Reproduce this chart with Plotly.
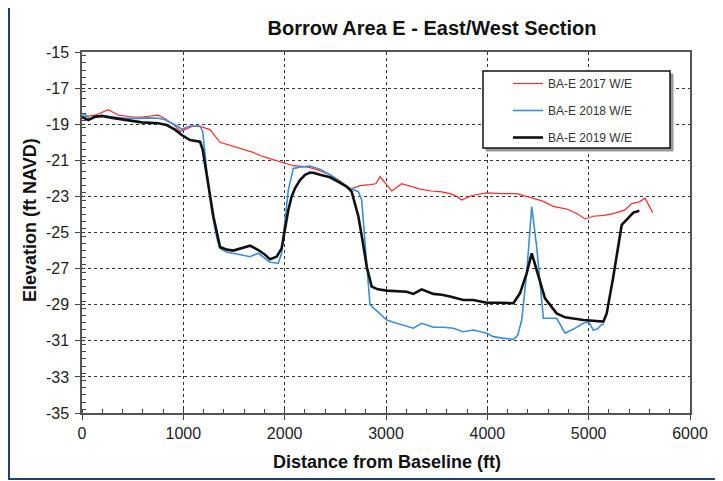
import plotly.graph_objects as go

# ---------------- data ----------------
x_2017 = [0, 60, 130, 260, 360, 500, 590, 680, 750, 820, 900, 970, 1030, 1100, 1180, 1263, 1362, 1450,
          1559, 1680, 1789, 1900, 1954, 2085, 2200, 2283, 2447, 2560, 2650, 2743, 2842, 2900, 2941, 3000,
          3056, 3155, 3250, 3336, 3450, 3550, 3632, 3700, 3747, 3800, 3846, 3994, 4150, 4290, 4421, 4540,
          4651, 4783, 4882, 4964, 5046, 5150, 5243, 5359, 5425, 5500, 5556, 5632]
y_2017 = [-18.65, -18.55, -18.5, -18.2, -18.5, -18.6, -18.6, -18.55, -18.5, -18.7, -19.0, -19.4, -19.25,
          -19.1, -19.15, -19.3, -20.0, -20.15, -20.3, -20.55, -20.8, -21.0, -21.08, -21.3, -21.35, -21.45,
          -21.8, -22.2, -22.6, -22.4, -22.35, -22.3, -21.9, -22.3, -22.7, -22.3, -22.45, -22.6, -22.7,
          -22.75, -22.85, -23.0, -23.2, -23.05, -22.95, -22.8, -22.85, -22.85, -23.07, -23.25, -23.55,
          -23.7, -23.95, -24.25, -24.1, -24.05, -23.95, -23.75, -23.4, -23.3, -23.1, -23.9]

x_2018 = [0, 30, 80, 195, 300, 424, 550, 650, 753, 820, 885, 940, 984, 1066, 1165, 1191, 1230, 1280, 1330,
          1362, 1430, 1493, 1580, 1658, 1740, 1800, 1855, 1937, 1970, 2000, 2036, 2085, 2150, 2250, 2350,
          2447, 2530, 2612, 2727, 2760, 2800, 2842, 2920, 3007, 3105, 3200, 3270, 3352, 3467, 3565, 3665,
          3763, 3862, 3994, 4059, 4150, 4257, 4300, 4339, 4388, 4438, 4487, 4553, 4684, 4767, 4850, 4948,
          5000, 5046, 5085, 5128, 5153]
y_2018 = [-18.55, -18.45, -18.73, -18.5, -18.6, -18.67, -18.68, -18.65, -18.67, -18.75, -18.95, -19.1,
          -19.28, -19.1, -19.1, -19.4, -21.5, -23.8, -25.3, -25.88, -26.1, -26.15, -26.25, -26.34, -26.15,
          -26.4, -26.65, -26.7, -26.15, -24.5, -22.65, -21.45, -21.38, -21.32, -21.5, -21.8, -22.1, -22.46,
          -22.74, -23.2, -26.0, -29.0, -29.4, -29.85, -30.03, -30.2, -30.3, -30.03, -30.25, -30.25, -30.3,
          -30.5, -30.4, -30.58, -30.77, -30.85, -30.92, -30.7, -29.85, -27.3, -23.57, -25.8, -29.75,
          -29.75, -30.58, -30.35, -30.03, -29.95, -30.4, -30.35, -30.1, -30.1]

x_2019 = [0, 62, 128, 195, 300, 424, 590, 753, 835, 918, 984, 1066, 1165, 1191, 1240, 1296, 1362, 1430,
          1493, 1580, 1658, 1740, 1800, 1855, 1921, 1970, 2000, 2036, 2069, 2102, 2151, 2201, 2250, 2283,
          2350, 2447, 2530, 2612, 2661, 2727, 2770, 2810, 2859, 2920, 3007, 3105, 3204, 3270, 3352, 3467,
          3550, 3632, 3763, 3862, 3994, 4125, 4257, 4322, 4388, 4438, 4504, 4569, 4684, 4767, 4948, 5145,
          5178, 5243, 5326, 5375, 5441, 5500]
y_2019 = [-18.6, -18.77, -18.58, -18.55, -18.65, -18.77, -18.9, -18.95, -19.05, -19.3, -19.6, -19.88,
          -19.97, -20.4, -22.2, -24.1, -25.8, -25.95, -26.0, -25.85, -25.73, -25.97, -26.2, -26.48, -26.34,
          -25.88, -24.8, -23.75, -23.0, -22.55, -22.1, -21.8, -21.68, -21.69, -21.8, -21.94, -22.2, -22.46,
          -22.74, -24.1, -25.5, -26.9, -28.0, -28.15, -28.22, -28.25, -28.28, -28.4, -28.15, -28.4, -28.45,
          -28.55, -28.74, -28.74, -28.89, -28.89, -28.92, -28.37, -27.26, -26.15, -27.45, -28.65, -29.48,
          -29.7, -29.85, -29.94, -29.48, -27.45, -24.58, -24.3, -23.9, -23.79]

series_names = ["BA-E 2017 W/E", "BA-E 2018 W/E", "BA-E 2019 W/E"]
x_ticks = [0, 1000, 2000, 3000, 4000, 5000, 6000]
y_ticks = [-35, -33, -31, -29, -27, -25, -23, -21, -19, -17, -15]

FONT = "Liberation Sans, Arial, sans-serif"

fig = go.Figure()
fig.add_trace(go.Scatter(x=x_2017, y=y_2017, mode="lines", name=series_names[0], legendgroup="a",
                         line=dict(color="#ff2a2a", width=1.2)))
fig.add_trace(go.Scatter(x=x_2018, y=y_2018, mode="lines", name=series_names[1], legendgroup="b",
                         line=dict(color="#3a8ddb", width=1.6)))
fig.add_trace(go.Scatter(x=x_2019, y=y_2019, mode="lines", name=series_names[2], legendgroup="c",
                         line=dict(color="#111111", width=2.6)))

# page has an 8px body margin: figure coords = screen coords - 8
OFF = 8
W, H = 723 - OFF, 481 - OFF
L, R, T, B = 82 - OFF, 690 - OFF, 52 - OFF, 413 - OFF
pw, ph = R - L, B - T


def px(xs):  # screen x -> paper
    return (xs - OFF - L) / pw


def py(ys):  # screen y -> paper
    return (B - (ys - OFF)) / ph


axis_common = dict(
    showline=True, linecolor="#555555", linewidth=1.5, mirror=True,
    showgrid=True, gridcolor="#333333", gridwidth=1.3, griddash="dot",
    zeroline=False, ticks="outside", ticklen=5, tickcolor="#444444",
    tickfont=dict(family=FONT, size=16, color="#222222"),
)

fig.update_xaxes(range=[0, 6000], tickvals=x_ticks, ticktext=[str(v) for v in x_ticks],
                 minor=dict(dtick=200, ticks="inside", ticklen=4, tickcolor="#444444", showgrid=False),
                 **axis_common)
fig.update_yaxes(range=[-35, -15], tickvals=y_ticks, ticktext=[str(v) for v in y_ticks],
                 ticklabelstandoff=3,
                 minor=dict(dtick=0.4, ticks="inside", ticklen=4, tickcolor="#444444", showgrid=False),
                 **axis_common)

shapes = [
    # outer frame
    dict(type="rect", xref="paper", yref="paper", x0=px(9), x1=px(717), y0=py(479), y1=py(6),
         line=dict(color="#22406e", width=2), fillcolor="rgba(0,0,0,0)", layer="above"),
    # legend shadow
    dict(type="rect", xref="paper", yref="paper", x0=px(486), x1=px(673), y0=py(151), y1=py(74),
         line=dict(color="#999999", width=1), fillcolor="#999999", layer="above"),
    # legend box
    dict(type="rect", xref="paper", yref="paper", x0=px(483), x1=px(670), y0=py(148), y1=py(71),
         line=dict(color="#111111", width=1.5), fillcolor="white", layer="above"),
]

annotations = [
    dict(text="<b>Distance from Baseline (ft)</b>", xref="paper", yref="paper", x=px(387), y=py(462),
         xanchor="center", yanchor="middle", showarrow=False,
         font=dict(family=FONT, size=18, color="#111111")),
    dict(text="<b>Elevation (ft NAVD)</b>", xref="paper", yref="paper", x=px(30), y=py(220),
         xanchor="center", yanchor="middle", showarrow=False, textangle=-90,
         font=dict(family=FONT, size=18, color="#111111")),
]

fig.update_layout(
    width=W, height=H,
    margin=dict(l=L, r=W - R, t=T, b=H - B, pad=0),
    paper_bgcolor="white", plot_bgcolor="white",
    title=dict(text="<b>Borrow Area E - East/West Section</b>", x=px(432), xref="paper", xanchor="center",
               y=1 - (28 - OFF) / H, yref="container", yanchor="middle",
               font=dict(family=FONT, size=20, color="#111111")),
    legend=dict(x=px(508), y=py(69), xanchor="left", yanchor="top", bgcolor="rgba(0,0,0,0)",
                borderwidth=0, font=dict(family=FONT, size=12, color="#333333"),
                tracegroupgap=8, itemwidth=30),
    shapes=shapes, annotations=annotations,
    showlegend=True,
)

fig.write_html("out.html")
